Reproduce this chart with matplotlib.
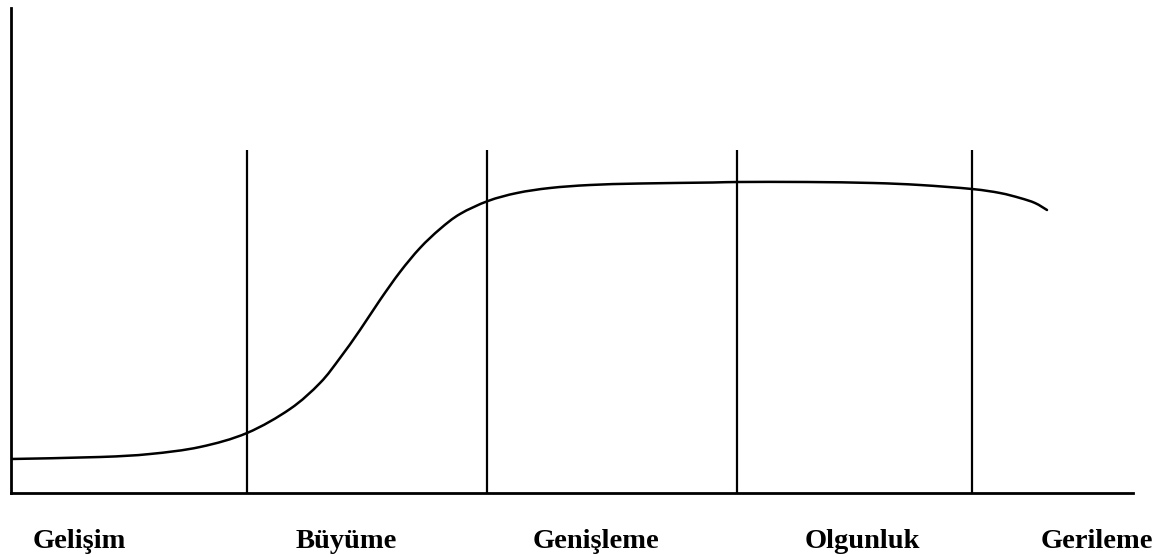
import matplotlib.pyplot as plt
from matplotlib.path import Path
from matplotlib.patches import PathPatch

# stage names under the x axis
stages = ['Gelişim', 'Büyüme', 'Genişleme', 'Olgunluk', 'Gerileme']
stage_centers = [68, 335, 585, 851, 1086]

# stage boundaries (vertical lines)
boundaries = [236, 476, 726, 961]
boundary_top = 343

# life cycle curve
curve_x = [0, 89, 139, 189, 236, 279, 309, 329, 349, 369, 389, 409, 429, 449,
           477, 506, 539, 579, 629, 702, 727, 796, 862, 909, 961, 989, 1009,
           1024, 1036]
curve_y = [34, 36, 39, 46, 60, 84, 110, 135, 163, 193, 221, 245, 264, 279,
           292, 300, 305, 308, 309.5, 310.5, 311, 311, 310, 308, 304, 300, 295,
           290, 283]


def smooth_path(xs, ys):
    # catmull-rom through the read points, drawn as bezier segments
    pts = list(zip(xs, ys))
    verts = [pts[0]]
    codes = [Path.MOVETO]
    n = len(pts)
    for i in range(n - 1):
        p0 = pts[max(i - 1, 0)]
        p1 = pts[i]
        p2 = pts[i + 1]
        p3 = pts[min(i + 2, n - 1)]
        c1 = (p1[0] + (p2[0] - p0[0]) / 6, p1[1] + (p2[1] - p0[1]) / 6)
        c2 = (p2[0] - (p3[0] - p1[0]) / 6, p2[1] - (p3[1] - p1[1]) / 6)
        verts += [c1, c2, p2]
        codes += [Path.CURVE4] * 3
    return Path(verts, codes)


W, H = 1164, 557
fig = plt.figure(figsize=(W / 100, H / 100), dpi=100)
ax = fig.add_axes([11 / W, (H - 493) / H, (1133 - 11) / W, (493 - 8) / H])
ax.set_xlim(0, 1122)
ax.set_ylim(0, 485)

for s in ['top', 'right']:
    ax.spines[s].set_visible(False)
for s in ['left', 'bottom']:
    ax.spines[s].set_linewidth(2)
ax.set_xticks([])
ax.set_yticks([])

ax.vlines(boundaries, 0, boundary_top, color='black', linewidth=1.6)
ax.add_patch(PathPatch(smooth_path(curve_x, curve_y), facecolor='none',
                       edgecolor='black', linewidth=1.8, capstyle='round',
                       joinstyle='round'))

for name, xc in zip(stages, stage_centers):
    ax.text(xc, -48, name, ha='center', va='center', fontsize=20.5,
            fontweight='bold', family='Liberation Serif', clip_on=False)

fig.savefig('out.png', dpi=100)
